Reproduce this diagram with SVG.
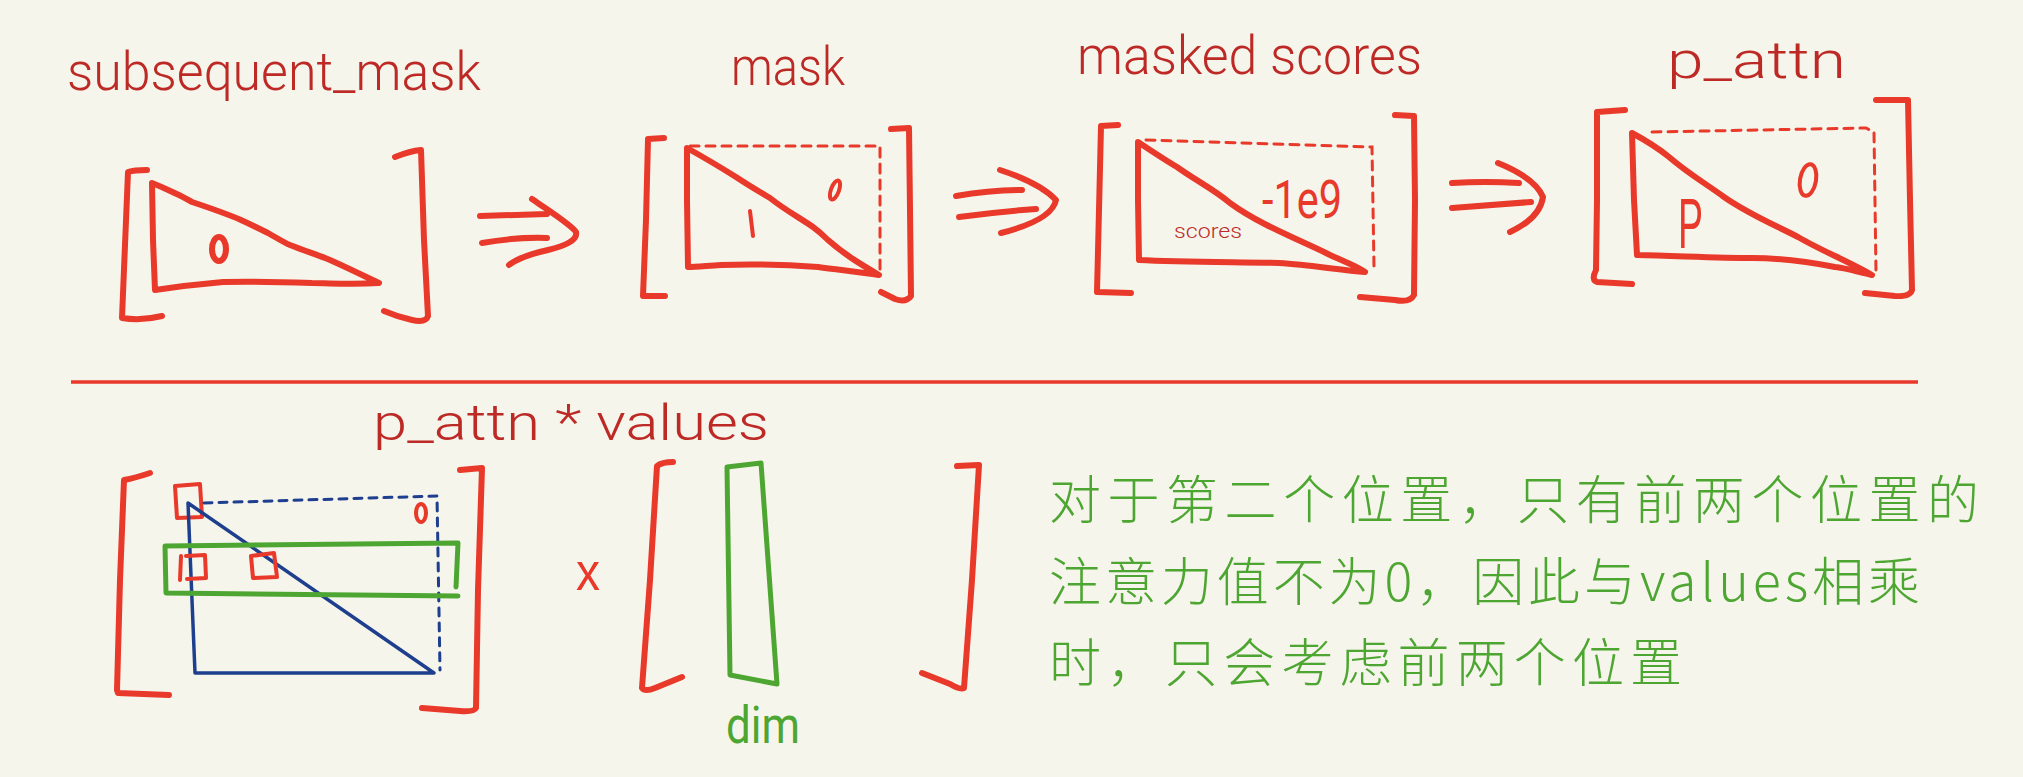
<svg xmlns="http://www.w3.org/2000/svg" width="2023" height="777" viewBox="0 0 2023 777">
<style>
.r{fill:none;stroke:#e8392a;stroke-width:6;stroke-linecap:round;stroke-linejoin:round}
.rt{fill:none;stroke:#e8392a;stroke-width:4;stroke-linecap:round;stroke-linejoin:round}
.rd{fill:none;stroke:#e8392a;stroke-width:3;stroke-dasharray:9 7;stroke-linecap:round}
.b{fill:none;stroke:#1e3f8e;stroke-width:3.5;stroke-linecap:round;stroke-linejoin:round}
.bd{fill:none;stroke:#1e3f8e;stroke-width:3;stroke-dasharray:8 7;stroke-linecap:round}
.g{fill:none;stroke:#4ea632;stroke-width:5;stroke-linecap:round;stroke-linejoin:round}
.lbl{font-family:Roboto,"Liberation Sans",sans-serif;font-weight:300;fill:#bd2a26}
.cn{font-family:"Noto Sans CJK SC",sans-serif;font-weight:300;fill:#4ea632;font-size:52px}
</style>
<rect width="2023" height="777" fill="#f6f5ec"/>

<g id="subsequent_mask">
<text class="lbl" x="67" y="90" font-size="54" textLength="414" lengthAdjust="spacingAndGlyphs">subsequent_mask</text>
<path class="r" d="M147,170 C138,170 131,171 128,172 L125,245 L122,318 C135,320 150,319 162,316"/>
<path class="r" d="M152,183 C165,188 172,192 179,195 C185,198 188,200 192,202 C210,208 225,213 241,220 C252,225 260,229 268,233 C277,238 283,242 290,245 C305,251 318,255 330,260 C348,268 362,275 379,283 C350,285 330,283 312,283 C285,282 255,281 223,282 C200,284 175,287 155,290 L153,240 Z"/>
<ellipse class="r" cx="219" cy="249" rx="7" ry="12"/>
<path class="r" d="M395,157 Q410,151 421,150 L424,240 L428,316 Q426,323 412,320 Q398,317 384,311"/>
</g>

<g id="mask">
<text class="lbl" x="731" y="85" font-size="54" textLength="114" lengthAdjust="spacingAndGlyphs">mask</text>
<path class="r" d="M664,138 L648,139 L646,220 L643,296 L665,296"/>
<path class="rd" d="M690,146 L880,146 L880,270"/>
<path class="r" d="M687,148 C705,158 720,167 736,177 C748,185 760,192 770,198 C785,210 800,218 813,227 C820,232 824,236 828,240 C845,255 862,265 879,275 C860,272 840,270 818,267 C790,265 750,264 721,265 C705,266 695,267 688,267 L687,200 Z"/>
<path class="rt" d="M750,211 L753,236"/>
<ellipse class="rt" cx="835" cy="190" rx="4" ry="10" transform="rotate(20 835 190)"/>
<path class="r" d="M891,129 L909,128 L910,210 L911,296 Q906,303 895,299 L881,292"/>
</g>

<g id="masked_scores">
<text class="lbl" x="1077" y="74" font-size="54" textLength="345" lengthAdjust="spacingAndGlyphs">masked scores</text>
<path class="r" d="M1118,125 L1101,126 L1099,210 L1097,292 L1131,293"/>
<path class="rd" d="M1146,140 L1372,147 L1374,266"/>
<path class="r" d="M1138,142 C1150,150 1165,160 1177,167 C1195,180 1215,190 1230,203 C1260,225 1300,240 1330,255 C1345,262 1355,265 1365,272 C1340,270 1310,265 1279,263 C1230,262 1180,262 1139,260 L1138,200 Z"/>
<text x="1262" y="218" font-family="Roboto,Liberation Sans,sans-serif" font-size="54" fill="#e8392a" textLength="80" lengthAdjust="spacingAndGlyphs">-1e9</text>
<text class="lbl" x="1174" y="238" font-size="21" font-weight="400" textLength="68" lengthAdjust="spacingAndGlyphs">scores</text>
<path class="r" d="M1395,115 L1414,116 L1415,200 L1414,295 Q1410,303 1395,300 L1360,297"/>
</g>

<g id="p_attn">
<text class="lbl" x="1667" y="78" font-size="52" textLength="179" lengthAdjust="spacingAndGlyphs">p_attn</text>
<path class="r" d="M1625,110 L1597,112 L1597,200 L1596,270 Q1591,280 1597,282 L1632,284"/>
<path class="rd" d="M1652,132 L1866,128 L1874,132 L1876,272"/>
<path class="r" d="M1632,133 C1645,140 1658,148 1669,157 C1690,175 1708,185 1724,197 C1750,215 1775,225 1798,237 C1820,250 1850,262 1872,275 C1860,272 1845,268 1835,267 C1810,262 1780,258 1752,258 C1720,258 1680,256 1637,255 L1634,200 Z"/>
<text x="1678" y="248" font-family="Liberation Sans,sans-serif" font-size="70" fill="#e8392a" textLength="25" lengthAdjust="spacingAndGlyphs">P</text>
<ellipse class="rt" cx="1808" cy="180" rx="8" ry="16" transform="rotate(10 1808 180)"/>
<path class="r" d="M1876,100 L1908,100 L1910,200 L1912,290 Q1910,297 1895,296 L1865,293"/>
</g>

<g id="connectors">
<path class="r" d="M480,216 L547,214 M482,243 Q515,237 547,238 M532,199 C552,213 570,224 576,232 C578,240 565,246 548,250 C530,254 518,258 509,265"/>
<path class="r" d="M956,196 Q990,190 1022,190 M959,217 Q995,212 1036,209 M1000,170 Q1040,183 1056,200 Q1052,220 1001,233"/>
<path class="r" d="M1452,183 Q1485,181 1519,183 M1452,208 Q1490,205 1531,202 M1498,163 Q1535,178 1543,197 Q1540,218 1510,232"/>
</g>

<g id="divider">
<path d="M71,382 L1918,382" stroke="#e8392a" stroke-width="3.5" fill="none"/>
</g>

<g id="p_attn_times_values">
<text class="lbl" x="373" y="440" font-size="50" textLength="396" lengthAdjust="spacingAndGlyphs">p_attn * values</text>
<path class="r" d="M150,473 Q135,478 124,480 L120,580 L117,690 L118,693 L169,695" stroke-width="5"/>
<path class="rt" d="M175,486 L200,484 L202,517 L177,518 Z" stroke-width="3"/>
<path class="bd" d="M204,503 L437,496 L440,670"/>
<path class="b" d="M188,503 L195,673 L434,673 Z"/>
<ellipse class="rt" cx="421" cy="513" rx="5" ry="9" stroke-width="3.5"/>
<path class="g" d="M165,546 L458,543 L456,587 M165,546 L166,593 L458,596"/>
<path class="rt" d="M181,556 L180,580 M186,556 L205,555 L206,578 L187,579" stroke-width="3.5"/>
<path class="rt" d="M251,556 L274,553 L277,577 L253,578 Z" stroke-width="3.5"/>
<path class="r" d="M460,470 L482,468 L478,590 L476,708 Q474,712 460,711 L422,708" stroke-width="5"/>
<text x="576" y="590" font-family="Liberation Sans,sans-serif" font-size="54" fill="#e8392a" textLength="24" lengthAdjust="spacingAndGlyphs">x</text>
<path class="r" d="M673,462 Q662,462 657,466 L650,580 L642,688 Q645,692 655,688 L682,677" stroke-width="5"/>
<path class="g" d="M727,467 L761,463 L777,684 L730,675 Z" stroke-width="4.5"/>
<text x="726" y="743" font-family="Roboto,Liberation Sans,sans-serif" font-size="52" fill="#4ea632" textLength="74" lengthAdjust="spacingAndGlyphs">dim</text>
<path class="r" d="M957,466 L979,465 L972,580 L964,688 Q960,690 950,684 L922,673" stroke-width="5"/>
</g>

<g id="note">
<text class="cn" x="1049" y="519" textLength="930" lengthAdjust="spacing">对于第二个位置，只有前两个位置的</text>
<text class="cn" x="1049" y="601" textLength="871" lengthAdjust="spacing">注意力值不为0，因此与values相乘</text>
<text class="cn" x="1049" y="682" textLength="633" lengthAdjust="spacing">时，只会考虑前两个位置</text>
</g>
</svg>
